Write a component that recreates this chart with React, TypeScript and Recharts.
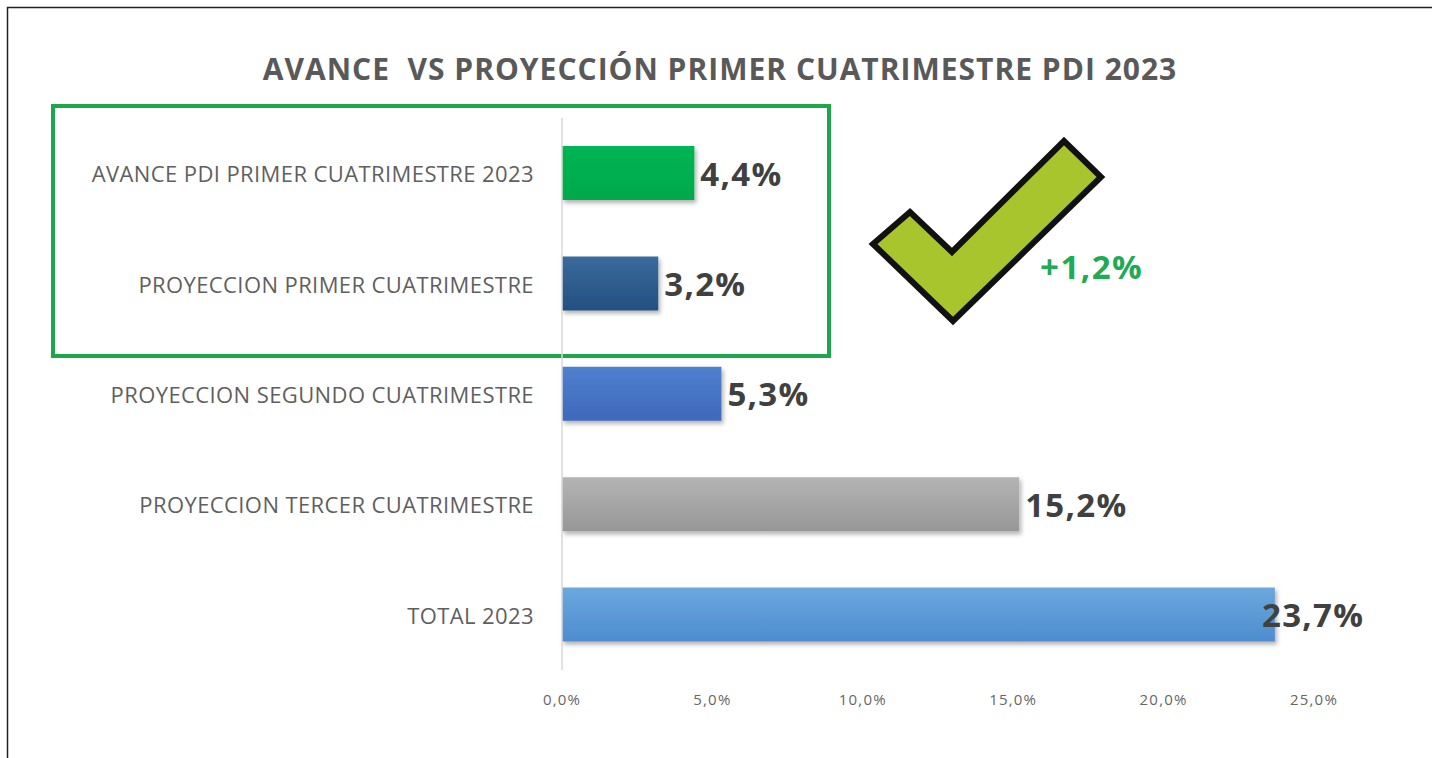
import { BarChart, Bar, XAxis, YAxis, Cell, LabelList, Customized } from "recharts";

const categories = [
  "AVANCE PDI PRIMER CUATRIMESTRE 2023",
  "PROYECCION PRIMER CUATRIMESTRE",
  "PROYECCION SEGUNDO CUATRIMESTRE",
  "PROYECCION TERCER CUATRIMESTRE",
  "TOTAL 2023",
];
const values = [4.4, 3.2, 5.3, 15.2, 23.7];
const xTicks = [0, 5, 10, 15, 20, 25];
const title = "AVANCE  VS PROYECCIÓN PRIMER CUATRIMESTRE PDI 2023";

const data = categories.map((name, i) => ({ name, value: values[i] }));

// styles
const barGradients = [
  ["#00b552", "#00a94b"],
  ["#3a6b9c", "#22507f"],
  ["#507fd0", "#3f69bb"],
  ["#b4b4b4", "#979797"],
  ["#6ba8de", "#4d8ccf"],
];
const FONT = "'Open Sans', sans-serif";
const W = 1432;
const H = 758;
const AXIS_X = 562;
const PLOT_BOTTOM = 670;
const LABEL_MAX_X = 1262;

const fmt = (v: number) => v.toFixed(1).replace(".", ",") + "%";

function YTick(props: any) {
  const { y, payload } = props;
  return (
    <text x={AXIS_X - 28} y={y} textAnchor="end" dominantBaseline="central"
      fontFamily={FONT} fontSize={22} fill="#5f5f5f" letterSpacing={0.4}>
      {payload.value}
    </text>
  );
}

function XTick(props: any) {
  const { x, payload } = props;
  return (
    <text x={x} y={PLOT_BOTTOM + 29} textAnchor="middle" dominantBaseline="central"
      fontFamily={FONT} fontSize={15} fill="#666" letterSpacing={1.2}>
      {fmt(payload.value)}
    </text>
  );
}

function ValueLabel(props: any) {
  const { x, y, width, height, value } = props;
  const lx = Math.min(x + width + 6, LABEL_MAX_X);
  return (
    <text x={lx} y={y + height / 2} dominantBaseline="central"
      fontFamily={FONT} fontWeight={700} fontSize={33} fill="#404040" letterSpacing={1.3}>
      {fmt(value)}
    </text>
  );
}

function Decorations() {
  const diff = fmt(values[0] - values[1]);
  return (
    <g>
      <path d={`M7.5 ${H} L7.5 7.5 L${W} 7.5`} fill="none" stroke="#222" strokeWidth={1.5} />
      <text x={720} y={68} textAnchor="middle" dominantBaseline="central" style={{ whiteSpace: "pre" }}
        fontFamily={FONT} fontWeight={700} fontSize={30} fill="#595959" letterSpacing={1}>
        {title}
      </text>
      <rect x={53} y={106} width={776} height={250} fill="none" stroke="#1ea64c" strokeWidth={4} />
      <polygon points="873,244 910,212 952,252 1064,141 1101,177 953,321"
        fill="#a9c52d" stroke="#111" strokeWidth={6} strokeLinejoin="miter" />
      <text x={1040} y={266} dominantBaseline="central"
        fontFamily={FONT} fontWeight={700} fontSize={33} fill="#1faa55" letterSpacing={1.5}>
        +{diff}
      </text>
    </g>
  );
}

export default function App() {
  return (
    <div style={{ position: "absolute", left: 0, top: 0, background: "#fff" }}>
      <BarChart width={W} height={H} data={data} layout="vertical"
        margin={{ top: 118, right: 118, bottom: 0, left: 0 }}>
        <defs>
          {barGradients.map((g, i) => (
            <linearGradient key={i} id={`barGrad${i}`} x1="0" y1="0" x2="0" y2="1">
              <stop offset="0%" stopColor={g[0]} />
              <stop offset="100%" stopColor={g[1]} />
            </linearGradient>
          ))}
          <filter id="barShadow" x="-5%" y="-20%" width="115%" height="150%">
            <feDropShadow dx={2} dy={3} stdDeviation={2} floodColor="#000" floodOpacity={0.3} />
          </filter>
        </defs>
        <XAxis type="number" domain={[0, 25]} ticks={xTicks} interval={0}
          axisLine={false} tickLine={false} height={88} tick={<XTick />} />
        <YAxis type="category" dataKey="name" width={AXIS_X} interval={0}
          axisLine={{ stroke: "#d9d9d9", strokeWidth: 1.5 }} tickLine={false} tick={<YTick />} />
        <Bar dataKey="value" barSize={54} isAnimationActive={false} filter="url(#barShadow)">
          {data.map((d, i) => (
            <Cell key={d.name} fill={`url(#barGrad${i})`} />
          ))}
          <LabelList dataKey="value" content={<ValueLabel />} />
        </Bar>
        <Customized component={Decorations} />
      </BarChart>
    </div>
  );
}
